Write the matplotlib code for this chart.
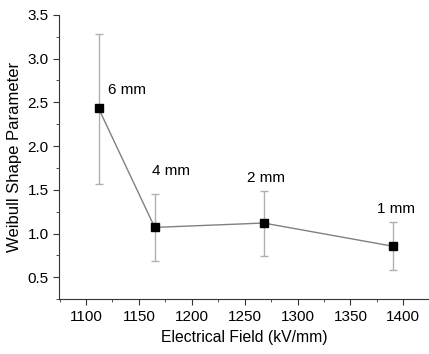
import matplotlib.pyplot as plt
from matplotlib.ticker import MultipleLocator

plt.rcParams['font.family'] = ['Liberation Sans', 'DejaVu Sans']

# Data
field = [1112, 1165, 1268, 1390]
shape = [2.43, 1.07, 1.12, 0.855]
err_low = [1.57, 0.69, 0.745, 0.585]
err_high = [3.28, 1.45, 1.49, 1.13]
labels = ['6 mm', '4 mm', '2 mm', '1 mm']
label_x = [1121, 1162, 1252, 1375]
label_y = [2.64, 1.715, 1.64, 1.28]

yerr = [[s - lo for s, lo in zip(shape, err_low)],
        [hi - s for s, hi in zip(shape, err_high)]]

fig = plt.figure(figsize=(4.29, 3.54), dpi=100)
ax = fig.add_axes([0.1375, 0.155, 0.8625, 0.803])

ax.errorbar(field, shape, yerr=yerr, fmt='none', ecolor='#b0b0b0',
            elinewidth=1, capsize=3, capthick=1)
ax.plot(field, shape, color='#808080', lw=1)
ax.plot(field, shape, 's', color='black', ms=5.5)

for x, y, t in zip(label_x, label_y, labels):
    ax.text(x, y, t, fontsize=11, va='center', ha='left')

ax.set_xlim(1074.5, 1424.3)
ax.set_ylim(0.25, 3.5)
ax.xaxis.set_major_locator(MultipleLocator(50))
ax.xaxis.set_minor_locator(MultipleLocator(25))
ax.yaxis.set_major_locator(MultipleLocator(0.5))
ax.yaxis.set_minor_locator(MultipleLocator(0.25))
ax.tick_params(which='major', direction='out', length=4, labelsize=11, color='#333333')
ax.tick_params(which='minor', direction='out', length=2, color='#333333')

ax.spines['top'].set_visible(False)
ax.spines['right'].set_visible(False)
ax.spines['left'].set_color('#333333')
ax.spines['bottom'].set_color('#333333')

ax.set_xlabel('Electrical Field (kV/mm)', fontsize=11.3, labelpad=5)
ax.set_ylabel('Weibull Shape Parameter', fontsize=12, labelpad=4)

fig.savefig('out.png', dpi=100)
